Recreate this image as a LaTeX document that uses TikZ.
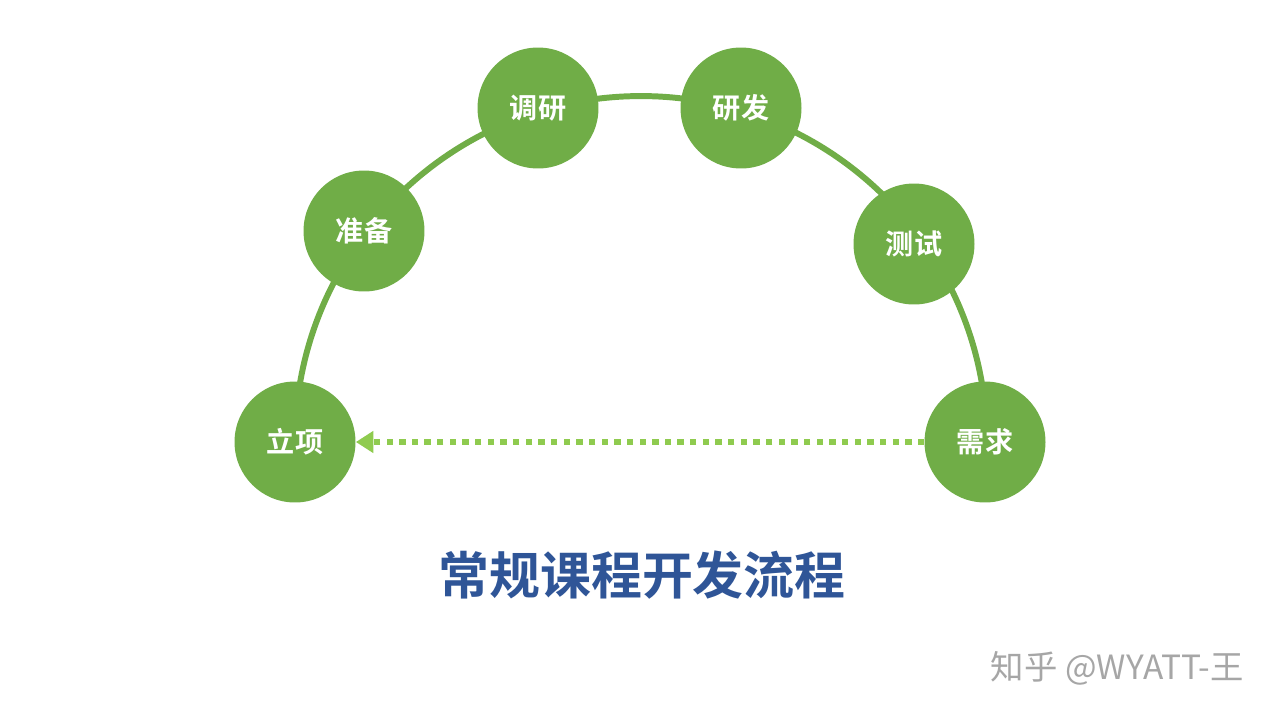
\documentclass[tikz,border=0pt]{standalone}
\usepackage{fontspec}
\newfontfamily\cjk{Noto Sans CJK SC}[BoldFont={* Bold}]
\usetikzlibrary{arrows.meta}
\definecolor{cg}{HTML}{70AD47}
\definecolor{lg}{HTML}{8FCB4F}
\definecolor{tb}{HTML}{2F5597}
\begin{document}
\begin{tikzpicture}[x=0.02cm,y=-0.02cm,
  st/.style={circle,fill=cg,minimum size=2.42cm,inner sep=0pt,text=white,font=\cjk\bfseries\fontsize{16}{18}\selectfont}]
\useasboundingbox (0,0) rectangle (1280,720);
\draw[cg,line width=3.4pt] (295,442) arc[start angle=180,end angle=0,radius=6.92cm];
\node[st] (a) at (295,442) {立项};
\node[st] (b) at (364,231) {准备};
\node[st] (c) at (538,108) {调研};
\node[st] (d) at (741,108) {研发};
\node[st] (e) at (914,244) {测试};
\node[st] (f) at (985,442) {需求};
\draw[lg,line width=3.6pt,dash pattern=on 3.6pt off 3.6pt,-{Triangle[length=10pt,width=12pt]}] (f.west) -- (a.east);
\node[text=tb,font=\cjk\bfseries\fontsize{29}{32}\selectfont] (t) at (642,575) {常规课程开发流程};
\node[text=black!35,font=\cjk\fontsize{19}{22}\selectfont,anchor=east] (w) at (1250,668) {知乎 @WYATT-王};
\end{tikzpicture}
\end{document}
